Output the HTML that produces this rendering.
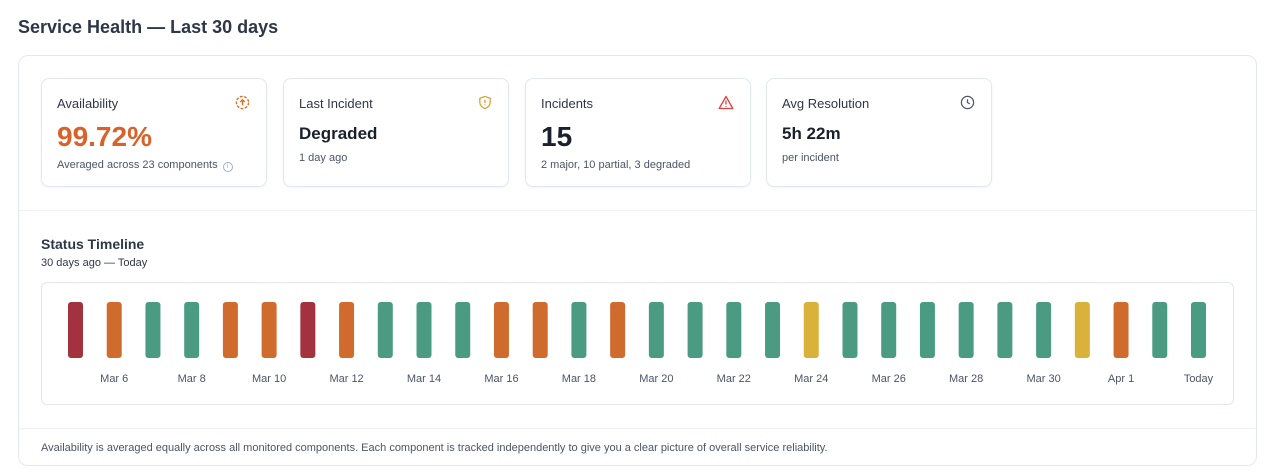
<!DOCTYPE html>
<html><head><meta charset="utf-8"><style>
*{box-sizing:border-box;margin:0;padding:0}
body{width:1280px;height:476px;background:#fff;font-family:"Liberation Sans",sans-serif;color:#1a202c;position:relative;overflow:hidden}
.abs{position:absolute}
h1{position:absolute;left:18px;top:17px;font-size:18px;font-weight:bold;color:#2d3748}
.outer{left:18px;top:55px;width:1239px;height:411px;border:1px solid #e2e8f0;border-radius:10px}
.card{top:78px;width:226px;height:109px;border:1px solid #e2e8f0;border-radius:8px;box-shadow:0 1px 2px rgba(0,0,0,.05)}
.lbl{position:absolute;left:15px;top:17px;font-size:13px;color:#2d3748}
.val{position:absolute;left:15px;font-weight:bold}
.sub{position:absolute;left:15px;font-size:11px;color:#4a5568}
.ic{position:absolute;right:16px;top:16px}
</style></head><body>
<h1>Service Health — Last 30 days</h1>
<div class="abs outer"></div>
<div class="abs card" style="left:41px">
 <div class="lbl">Availability</div>
 <svg class="ic" width="15" height="15" viewBox="0 0 16 16"><circle cx="8" cy="8" r="6.5" fill="none" stroke="#dd6b20" stroke-width="1.4" stroke-dasharray="3 1.6"/><path d="M8 11V5M5.5 7.5L8 5l2.5 2.5" fill="none" stroke="#dd6b20" stroke-width="1.4"/></svg>
 <div class="val" style="top:42px;font-size:28px;color:#d9622b">99.72%</div>
 <div class="sub" style="top:80px">Averaged across 23 components <span style="display:inline-block;width:10px;height:10px;border:1px solid #a0aec0;border-radius:50%;font-size:7px;text-align:center;line-height:8px;color:#a0aec0;vertical-align:0px;margin-left:2px">i</span></div>
</div>
<div class="abs card" style="left:283px">
 <div class="lbl">Last Incident</div>
 <svg class="ic" width="14" height="15" viewBox="0 0 14 16"><path d="M7 1.5L12.5 3.5V8c0 3-2.5 5.5-5.5 6.5C4 13.5 1.5 11 1.5 8V3.5z" fill="none" stroke="#d69e2e" stroke-width="1.3"/><path d="M7 5v3.5M7 10v.8" stroke="#d69e2e" stroke-width="1.4"/></svg>
 <div class="val" style="top:45px;font-size:17px">Degraded</div>
 <div class="sub" style="top:73px">1 day ago</div>
</div>
<div class="abs card" style="left:525px">
 <div class="lbl">Incidents</div>
 <svg class="ic" width="16" height="15" viewBox="0 0 16 15"><path d="M8 1.5L14.8 13.5H1.2z" fill="none" stroke="#e53e3e" stroke-width="1.3" stroke-linejoin="round"/><path d="M8 5.5v4M8 11v.8" stroke="#e53e3e" stroke-width="1.3"/></svg>
 <div class="val" style="top:42px;font-size:28px">15</div>
 <div class="sub" style="top:80px">2 major, 10 partial, 3 degraded</div>
</div>
<div class="abs card" style="left:766px">
 <div class="lbl">Avg Resolution</div>
 <svg class="ic" width="15" height="15" viewBox="0 0 16 16"><circle cx="8" cy="8" r="6.5" fill="none" stroke="#4a5568" stroke-width="1.3"/><path d="M8 4.5V8l2.5 1.5" fill="none" stroke="#4a5568" stroke-width="1.3"/></svg>
 <div class="val" style="top:45px;font-size:17px">5h 22m</div>
 <div class="sub" style="top:73px">per incident</div>
</div>
<div class="abs" style="left:19px;top:210px;width:1237px;height:1px;background:#edf2f7"></div>
<div class="abs" style="left:41px;top:236px;font-size:14px;font-weight:bold;color:#2d3748">Status Timeline</div>
<div class="abs" style="left:41px;top:257px;font-size:11px;color:#2d3748">30 days ago — Today</div>
<div class="abs" style="left:41px;top:282px;width:1193px;height:123px;border:1px solid #e2e8f0;border-radius:6px"></div>
<svg id="chart" class="abs" style="left:0;top:0" width="1280" height="476"></svg>
<div class="abs" style="left:19px;top:428px;width:1237px;height:1px;background:#edf2f7"></div>
<div class="abs" style="left:41px;top:442px;font-size:11px;color:#4a5568">Availability is averaged equally across all monitored components. Each component is tracked independently to give you a clear picture of overall service reliability.</div>
<script>
const statuses=["major","partial","ok","ok","partial","partial","major","partial","ok","ok","ok","partial","partial","ok","partial","ok","ok","ok","ok","degraded","ok","ok","ok","ok","ok","ok","degraded","partial","ok","ok"];
const tickIndices=[1,3,5,7,9,11,13,15,17,19,21,23,25,27,29];
const tickLabels=["Mar 6","Mar 8","Mar 10","Mar 12","Mar 14","Mar 16","Mar 18","Mar 20","Mar 22","Mar 24","Mar 26","Mar 28","Mar 30","Apr 1","Today"];
const colors={major:"#a3323f",partial:"#d06b2e",ok:"#4a9b82",degraded:"#d9b13b"};
const NS="http://www.w3.org/2000/svg",svg=document.getElementById("chart");
const x0=75.5,x1=1198.5,bw=15;
const xs=i=>x0+(x1-x0)*i/(statuses.length-1);
statuses.forEach((s,i)=>{const r=document.createElementNS(NS,"rect");
r.setAttribute("x",xs(i)-bw/2);r.setAttribute("y",302);r.setAttribute("width",bw);r.setAttribute("height",56);r.setAttribute("rx",3);r.setAttribute("fill",colors[s]);


svg.appendChild(r);});
tickIndices.forEach((d,k)=>{const t=document.createElementNS(NS,"text");
t.setAttribute("x",xs(d));t.setAttribute("y",382);t.setAttribute("text-anchor","middle");t.setAttribute("font-size","11");t.setAttribute("fill","#4a5568");t.setAttribute("font-family","Liberation Sans, sans-serif");t.textContent=tickLabels[k];


svg.appendChild(t);});
</script>
</body></html>
